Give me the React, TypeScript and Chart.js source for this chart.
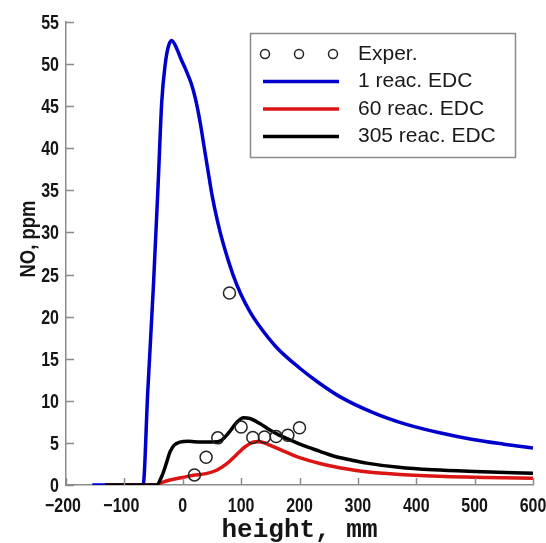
import React, { useEffect, useRef } from "react";
import { Chart, registerables } from "chart.js";

Chart.register(...registerables);

// ---- data ----
const blueX = [-155, -68, -60, -50, -42, -36, -30, -25, -19, -10, -3, 6, 15, 22, 30, 37, 44, 50, 60, 70, 86, 100, 115, 130, 160, 200, 230, 269, 326, 383, 440, 497, 550, 600];
const blueY = [0, 0, 11, 24, 36, 45.5, 50, 52, 52.8, 51.8, 50.6, 49.2, 47.6, 45.8, 43, 40, 37, 34.5, 31.2, 28.5, 25, 22.6, 20.6, 19, 16.4, 13.9, 12.3, 10.5, 8.6, 7.2, 6.2, 5.4, 4.85, 4.4];

const redX = [-133, -45, -35, -22, 0, 18, 40, 58, 75, 92, 108, 124, 135, 149, 165, 184, 200, 235, 258, 300, 372, 450, 520, 600];
const redY = [0, 0, 0.3, 0.6, 0.9, 1.15, 1.35, 1.75, 2.5, 3.6, 4.6, 5.15, 5.1, 4.75, 4.25, 3.7, 3.25, 2.55, 2.2, 1.7, 1.25, 1.0, 0.9, 0.8];

const blackX = [-133, -45, -35, -28, -22, -15, -5, 10, 30, 52, 66, 80, 92, 104, 115, 132, 150, 166, 189, 206, 235, 258, 290, 315, 370, 429, 500, 600];
const blackY = [0, 0, 1.2, 2.6, 3.9, 4.7, 5.1, 5.2, 5.1, 5.1, 5.3, 6.3, 7.4, 8.0, 7.9, 7.3, 6.5, 5.9, 5.2, 4.7, 4.0, 3.45, 2.95, 2.6, 2.1, 1.8, 1.6, 1.4];

const experX = [20, 40, 60, 80, 100, 120, 140, 160, 180, 200];
const experY = [1.2, 3.3, 5.6, 22.8, 6.9, 5.65, 5.7, 5.75, 5.9, 6.8];

const xTicks = [-200, -100, 0, 100, 200, 300, 400, 500, 600];
const yTicks = [0, 5, 10, 15, 20, 25, 30, 35, 40, 45, 50, 55];

const seriesLabels = ["Exper.", "1 reac. EDC", "60 reac. EDC", "305 reac. EDC"];
const xTitle = "height, mm";
const yTitle = "NO, ppm";

const BLUE = "rgb(0,0,205)";
const RED = "rgb(220,20,20)";
const BLACK = "#000000";
const AXIS = "#8c8c8c";
const SANS = "'Liberation Sans', Arial, sans-serif";

function pts(xs: number[], ys: number[]) {
  return xs.map((x, i) => ({ x, y: ys[i] }));
}

function narrowText(ctx: any, text: string, x: number, y: number, sx: number, align: string) {
  ctx.save();
  ctx.translate(x, y);
  ctx.scale(sx, 1);
  ctx.textAlign = align;
  ctx.fillText(text, 0, 0);
  ctx.restore();
}

const decor = {
  id: "decor",
  afterDraw(chart: any) {
    const { ctx, chartArea: a, scales } = chart;
    const xs = scales.x;
    const ys = scales.y;
    ctx.save();
    // inward tick marks
    ctx.strokeStyle = AXIS;
    ctx.lineWidth = 1.5;
    ctx.beginPath();
    xTicks.forEach((v) => {
      const px = Math.round(xs.getPixelForValue(v)) + 0.5;
      ctx.moveTo(px, a.bottom);
      ctx.lineTo(px, a.bottom - 7);
    });
    yTicks.forEach((v) => {
      const py = Math.round(ys.getPixelForValue(v)) + 0.5;
      ctx.moveTo(a.left, py);
      ctx.lineTo(a.left + 8, py);
    });
    ctx.stroke();

    // tick labels (condensed look)
    ctx.fillStyle = "#151515";
    ctx.font = "bold 20px " + SANS;
    ctx.textBaseline = "alphabetic";
    yTicks.forEach((v) => {
      const py = ys.getPixelForValue(v);
      narrowText(ctx, String(v), 59, py + 7, 0.8, "right");
    });
    xTicks.forEach((v) => {
      const px = xs.getPixelForValue(v);
      const s = String(v).replace("-", "\u2212");
      narrowText(ctx, s, px - (v < 0 ? 3 : 0), 512, 0.8, "center");
    });

    // axis titles
    ctx.font = "bold 22px " + SANS;
    ctx.save();
    ctx.translate(35, 239);
    ctx.rotate(-Math.PI / 2);
    ctx.scale(0.84, 1);
    ctx.textAlign = "center";
    ctx.fillText(yTitle, 0, 0);
    ctx.restore();

    ctx.font = "bold 26px 'Liberation Mono', 'DejaVu Sans Mono', monospace";
    ctx.textAlign = "center";
    ctx.fillText(xTitle, (a.left + a.right) / 2, 537);

    // legend
    const bx = 250.5, by = 33.5, bw = 265, bh = 124;
    ctx.fillStyle = "#fff";
    ctx.fillRect(bx, by, bw, bh);
    ctx.strokeStyle = "#8a8a8a";
    ctx.lineWidth = 1.5;
    ctx.strokeRect(bx, by, bw, bh);

    const rows = [54, 81.5, 109, 136.5];
    const colors = [null, BLUE, RED, BLACK];
    ctx.font = "21px " + SANS;
    ctx.textAlign = "left";
    ctx.textBaseline = "middle";
    rows.forEach((ry, i) => {
      if (i === 0) {
        ctx.strokeStyle = "#222";
        ctx.lineWidth = 1.5;
        [265, 299, 333].forEach((cx) => {
          ctx.beginPath();
          ctx.arc(cx, ry, 4.5, 0, Math.PI * 2);
          ctx.stroke();
        });
      } else {
        ctx.strokeStyle = colors[i] as string;
        ctx.lineWidth = 3.5;
        ctx.beginPath();
        ctx.moveTo(263, ry);
        ctx.lineTo(339, ry);
        ctx.stroke();
      }
      ctx.fillStyle = "#1a1a1a";
      ctx.fillText(seriesLabels[i], 358, ry);
    });
    ctx.restore();
  },
};

export default function App() {
  const ref = useRef<HTMLCanvasElement | null>(null);

  useEffect(() => {
    if (!ref.current) return;
    const lineDs = (label: string, xs: number[], ys: number[], color: string) => ({
      label,
      data: pts(xs, ys),
      borderColor: color,
      backgroundColor: color,
      borderWidth: 3.5,
      pointRadius: 0,
      fill: false,
      cubicInterpolationMode: "monotone" as const,
    });
    const chart = new Chart(ref.current, {
      type: "line",
      data: {
        datasets: [
          {
            label: seriesLabels[0],
            data: pts(experX, experY),
            showLine: false,
            pointStyle: "circle",
            pointRadius: 6,
            pointBorderWidth: 1.5,
            pointBorderColor: "#222",
            pointBackgroundColor: "rgba(255,255,255,0)",
            borderColor: "#222",
          } as any,
          lineDs(seriesLabels[3], blackX, blackY, BLACK),
          lineDs(seriesLabels[2], redX, redY, RED),
          lineDs(seriesLabels[1], blueX, blueY, BLUE),
        ],
      },
      options: {
        responsive: false,
        animation: false,
        events: [],
        layout: { padding: { top: 22, right: 13, left: 0, bottom: 0 } },
        plugins: {
          legend: { display: false },
          tooltip: { enabled: false },
          title: { display: false },
        },
        scales: {
          x: {
            type: "linear",
            min: -200,
            max: 600,
            grid: { display: false },
            border: { display: true, color: AXIS, width: 1.5 },
            afterBuildTicks: (s: any) => {
              s.ticks = xTicks.map((v) => ({ value: v }));
            },
            afterFit: (s: any) => {
              s.height = 58;
              s.paddingLeft = 0;
              s.paddingRight = 0;
            },
            ticks: { display: false },
          },
          y: {
            type: "linear",
            min: 0,
            max: 55,
            grid: { display: false },
            border: { display: true, color: AXIS, width: 1.5 },
            afterBuildTicks: (s: any) => {
              s.ticks = yTicks.map((v) => ({ value: v }));
            },
            afterFit: (s: any) => {
              s.width = 66;
              s.paddingTop = 0;
              s.paddingBottom = 0;
            },
            ticks: { display: false },
          },
        },
      },
      plugins: [decor],
    });
    return () => chart.destroy();
  }, []);

  return (
    <div style={{ position: "fixed", left: 0, top: 0, width: 546, height: 543, background: "#fff" }}>
      <canvas ref={ref} width={546} height={543} style={{ display: "block" }} />
    </div>
  );
}
